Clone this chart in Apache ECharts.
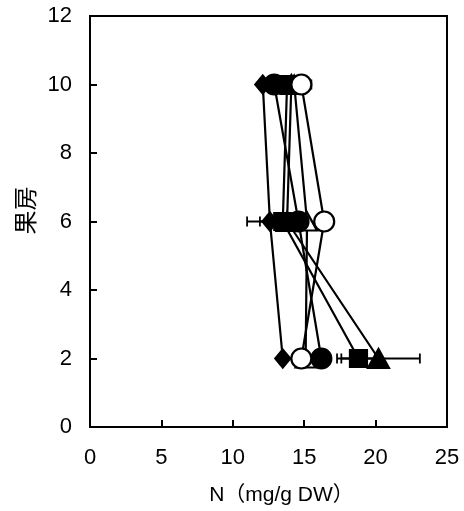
<!DOCTYPE html>
<html>
<head>
<meta charset="utf-8">
<script src="https://cdn.jsdelivr.net/npm/echarts@6/dist/echarts.min.js"></script>
<style>
  html, body { margin: 0; padding: 0; background: #fff; }
  #chart { width: 464px; height: 511px; }
</style>
</head>
<body>
<div id="chart"></div>
<script>
// Fruit cluster position (y) and nitrogen content (x, mg/g DW)
const clusters = [10, 6, 2];

const nDiamond      = [12.1, 12.6, 13.5];
const nCircle       = [12.9, 14.6, 16.2];
const nSquare       = [13.8, 13.5, 18.8];
const nTriangle     = [14.1, 13.8, 20.2];
const nOpenTriangle = [14.3, 15.2, 15.1];
const nOpenCircle   = [14.8, 16.4, 14.8];

// Standard deviations (null = not drawn)
const sdDiamond      = [null, 1.6, null];
const sdCircle       = [null, null, null];
const sdSquare       = [null, 1.6, 1.2];
const sdTriangle     = [null, null, 2.9];
const sdOpenTriangle = [null, null, null];
const sdOpenCircle   = [0.7, null, null];

const xTicks = [0, 5, 10, 15, 20, 25];
const yTicks = [0, 2, 4, 6, 8, 10, 12];

const FONT = "'Liberation Sans', 'Noto Sans CJK JP', sans-serif";

const groups = [
  { name: 'openTriangle', vals: nOpenTriangle, sd: sdOpenTriangle, symbol: 'triangle', size: [20, 18], fill: '#fff' },
  { name: 'square',       vals: nSquare,       sd: sdSquare,       symbol: 'rect',     size: 17,       fill: '#000' },
  { name: 'triangle',     vals: nTriangle,     sd: sdTriangle,     symbol: 'triangle', size: [21, 19], fill: '#000' },
  { name: 'circle',       vals: nCircle,       sd: sdCircle,       symbol: 'circle',   size: 20,       fill: '#000' },
  { name: 'diamond',      vals: nDiamond,      sd: sdDiamond,      symbol: 'diamond',  size: [15, 18], fill: '#000' },
  { name: 'openCircle',   vals: nOpenCircle,   sd: sdOpenCircle,   symbol: 'circle',   size: 20,       fill: '#fff' }
];

// Error bar entries: [x, y, sd]
const errData = [];
groups.forEach(g => {
  g.vals.forEach((v, i) => {
    if (g.sd[i] != null) errData.push([v, clusters[i], g.sd[i]]);
  });
});

const series = [{
  type: 'custom',
  z: 1,
  silent: true,
  data: errData,
  renderItem: function (params, api) {
    const x = api.value(0), y = api.value(1), sd = api.value(2);
    const lo = api.coord([x - sd, y]);
    const hi = api.coord([x + sd, y]);
    const cap = 5;
    const style = { stroke: '#000', lineWidth: 1.8 };
    return {
      type: 'group',
      children: [
        { type: 'line', shape: { x1: lo[0], y1: lo[1], x2: hi[0], y2: hi[1] }, style },
        { type: 'line', shape: { x1: lo[0], y1: lo[1] - cap, x2: lo[0], y2: lo[1] + cap }, style },
        { type: 'line', shape: { x1: hi[0], y1: hi[1] - cap, x2: hi[0], y2: hi[1] + cap }, style }
      ]
    };
  }
}];

groups.forEach((g, k) => {
  series.push({
    name: g.name,
    type: 'line',
    z: 2 + k,
    data: g.vals.map((v, i) => [v, clusters[i]]),
    symbol: g.symbol,
    symbolSize: g.size,
    showAllSymbol: true,
    lineStyle: { color: '#000', width: 2.2 },
    itemStyle: { color: g.fill, borderColor: '#000', borderWidth: 2.2 },
    emphasis: { disabled: true },
    animation: false
  });
});

const chart = echarts.init(document.getElementById('chart'), null, { renderer: 'canvas' });
chart.setOption({
  animation: false,
  backgroundColor: '#fff',
  grid: {
    left: 90, right: 17, top: 16, bottom: 83,
    show: true, borderColor: '#000', borderWidth: 2
  },
  xAxis: {
    type: 'value',
    min: xTicks[0], max: xTicks[xTicks.length - 1], interval: 5,
    name: 'N（mg/g DW）',
    nameLocation: 'middle',
    nameGap: 58,
    nameTextStyle: { color: '#000', fontSize: 21, fontFamily: FONT, padding: [0, 0, 0, 26] },
    axisLine: { lineStyle: { color: '#000', width: 2 } },
    axisTick: { inside: true, length: 7, lineStyle: { color: '#000', width: 2 } },
    axisLabel: { color: '#000', fontSize: 22, fontFamily: FONT, margin: 20 },
    splitLine: { show: false }
  },
  yAxis: {
    type: 'value',
    min: yTicks[0], max: yTicks[yTicks.length - 1], interval: 2,
    name: '果房',
    nameLocation: 'middle',
    nameRotate: 90,
    nameGap: 52,
    nameTextStyle: { color: '#000', fontSize: 24, fontFamily: "'Noto Sans CJK JP', sans-serif", padding: [0, 0, 0, 22] },
    axisLine: { lineStyle: { color: '#000', width: 2 } },
    axisTick: { inside: true, length: 7, lineStyle: { color: '#000', width: 2 } },
    axisLabel: { color: '#000', fontSize: 22, fontFamily: FONT, margin: 18 },
    splitLine: { show: false }
  },
  series: series
});
</script>
</body>
</html>
